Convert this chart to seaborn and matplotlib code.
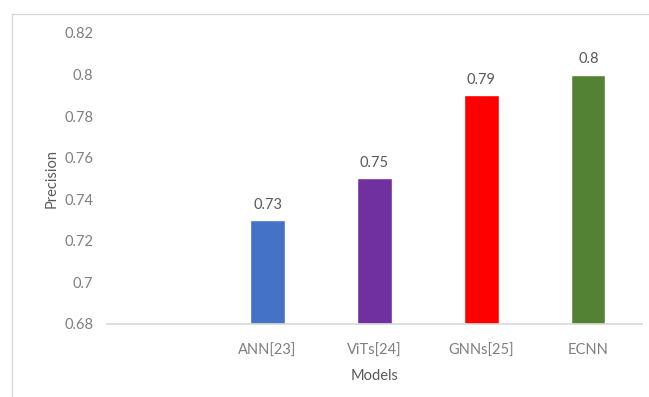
import seaborn as sns
import matplotlib.pyplot as plt
import matplotlib.lines as mlines
import pandas as pd
import numpy as np

# 数据
models = ["", "ANN[23]", "ViTs[24]", "GNNs[25]", "ECNN"]
precision = [np.nan, 0.73, 0.75, 0.79, 0.80]
bar_colors = ["#FFFFFF", "#4472C4", "#7030A0", "#FF0000", "#548235"]
y_ticks = [0.68, 0.70, 0.72, 0.74, 0.76, 0.78, 0.80, 0.82]
y_tick_labels = ["0.68", "0.7", "0.72", "0.74", "0.76", "0.78", "0.8", "0.82"]

df = pd.DataFrame({"Models": models, "Precision": precision})

sns.set_theme(style="white")
plt.rcParams["font.family"] = ["Lato", "DejaVu Sans"]
grey = "#7f7f7f"

fig = plt.figure(figsize=(6.49, 3.97), dpi=100)
ax = fig.add_axes([0.165, 0.184, 0.824, 0.733])

sns.barplot(data=df, x="Models", y="Precision", order=models, hue="Models",
            hue_order=models, palette=bar_colors, legend=False,
            width=0.32, saturation=1, ax=ax)

ax.set_ylim(0.68, 0.82)
ax.set_yticks(y_ticks)
ax.set_yticklabels(y_tick_labels)
ax.tick_params(axis="both", length=0, labelsize=10.5, colors=grey)
ax.tick_params(axis="y", pad=10)
ax.tick_params(axis="x", pad=14)

for s in ["top", "right", "left"]:
    ax.spines[s].set_visible(False)
ax.spines["bottom"].set_color("#d9d9d9")

ax.set_xlabel("Models", fontsize=10.5, color="#595959", labelpad=8)
ax.set_ylabel("Precision", fontsize=10.5, color="#595959", labelpad=4)

# 数值标签
for cont in ax.containers:
    for bar in cont:
        h = bar.get_height()
        if np.isfinite(h) and h > 0:
            ax.annotate(f"{h:g}", (bar.get_x() + bar.get_width() / 2, h),
                        xytext=(0, 6), textcoords="offset points",
                        ha="center", va="bottom", fontsize=10.5, color="#595959")

# 外框（上、左）
fig.add_artist(mlines.Line2D([0.018, 1.0], [0.965, 0.965], color="#d9d9d9", lw=1))
fig.add_artist(mlines.Line2D([0.018, 0.018], [0.0, 0.965], color="#d9d9d9", lw=1))

fig.savefig("out.png", dpi=100)
